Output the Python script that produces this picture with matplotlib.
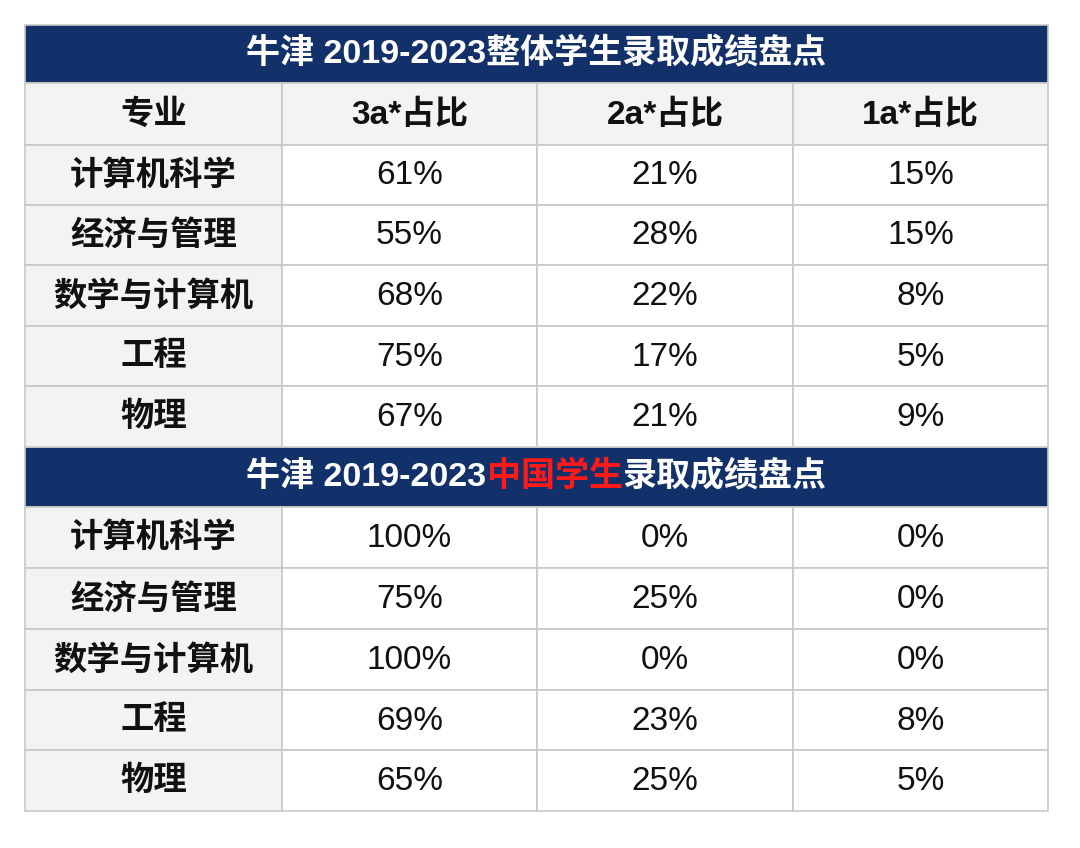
import matplotlib
matplotlib.use("Agg")
import matplotlib.pyplot as plt
from matplotlib.patches import Rectangle

plt.rcParams["font.family"] = ["Liberation Sans", "Noto Sans CJK SC"]

title1 = "牛津 2019-2023整体学生录取成绩盘点"
title2_parts = [("牛津 2019-2023", "white"), ("中国学生", "#ff1a1a"), ("录取成绩盘点", "white")]
headers = ["专业", "3a*占比", "2a*占比", "1a*占比"]
majors = ["计算机科学", "经济与管理", "数学与计算机", "工程", "物理"]
all_3a = [61, 55, 68, 75, 67]
all_2a = [21, 28, 22, 17, 21]
all_1a = [15, 15, 8, 5, 9]
cn_3a = [100, 75, 100, 69, 65]
cn_2a = [0, 25, 0, 23, 25]
cn_1a = [0, 0, 0, 8, 5]

W, H = 1080, 848
cols = [25, 282, 537, 793, 1048]
rows = [25, 83, 145, 205, 265, 326, 386, 447, 507, 568, 629, 690, 750, 811]
NAVY = "#12306a"
GRAY = "#f3f3f3"
LINE = "#c8c8c8"

fig = plt.figure(figsize=(W / 100, H / 100), dpi=100)
ax = fig.add_axes([0, 0, 1, 1])
ax.set_xlim(0, W); ax.set_ylim(H, 0); ax.axis("off")


def cell(x0, x1, y0, y1, fc):
    ax.add_patch(Rectangle((x0, y0), x1 - x0, y1 - y0, facecolor=fc, edgecolor=LINE, lw=1.2))


# title bars
for y0, y1 in [(rows[0], rows[1]), (rows[7], rows[8])]:
    ax.add_patch(Rectangle((cols[0], y0), cols[-1] - cols[0], y1 - y0, facecolor=NAVY, edgecolor=LINE, lw=1.2))
ax.text((cols[0] + cols[-1]) / 2, (rows[0] + rows[1]) / 2, title1, color="white",
        fontsize=24.5, fontweight="bold", ha="center", va="center")

# header row
for i, h in enumerate(headers):
    cell(cols[i], cols[i + 1], rows[1], rows[2], GRAY)
    ax.text((cols[i] + cols[i + 1]) / 2, (rows[1] + rows[2]) / 2 + 1, h, fontsize=24,
            fontweight="bold", ha="center", va="center", color="#111111")


def block(r0, a, b, c):
    for k, m in enumerate(majors):
        y0, y1 = rows[r0 + k], rows[r0 + k + 1]
        yc = (y0 + y1) / 2 + 1
        cell(cols[0], cols[1], y0, y1, GRAY)
        ax.text((cols[0] + cols[1]) / 2, yc, m, fontsize=24, fontweight="bold",
                ha="center", va="center", color="#111111")
        for j, v in enumerate([a[k], b[k], c[k]]):
            cell(cols[j + 1], cols[j + 2], y0, y1, "white")
            ax.text((cols[j + 1] + cols[j + 2]) / 2, yc, f"{v}%", fontsize=24,
                    ha="center", va="center", color="#111111")


block(2, all_3a, all_2a, all_1a)
block(8, cn_3a, cn_2a, cn_1a)

# second title with coloured part
fig.canvas.draw()
r = fig.canvas.get_renderer()
yc = (rows[7] + rows[8]) / 2
tmp = [ax.text(0, yc, s, fontsize=24.5, fontweight="bold", color=c, va="center") for s, c in title2_parts]
widths = [t.get_window_extent(r).width for t in tmp]
x = (cols[0] + cols[-1]) / 2 - sum(widths) / 2
for t, w in zip(tmp, widths):
    t.set_x(x); x += w

fig.savefig("out.png", dpi=100)
